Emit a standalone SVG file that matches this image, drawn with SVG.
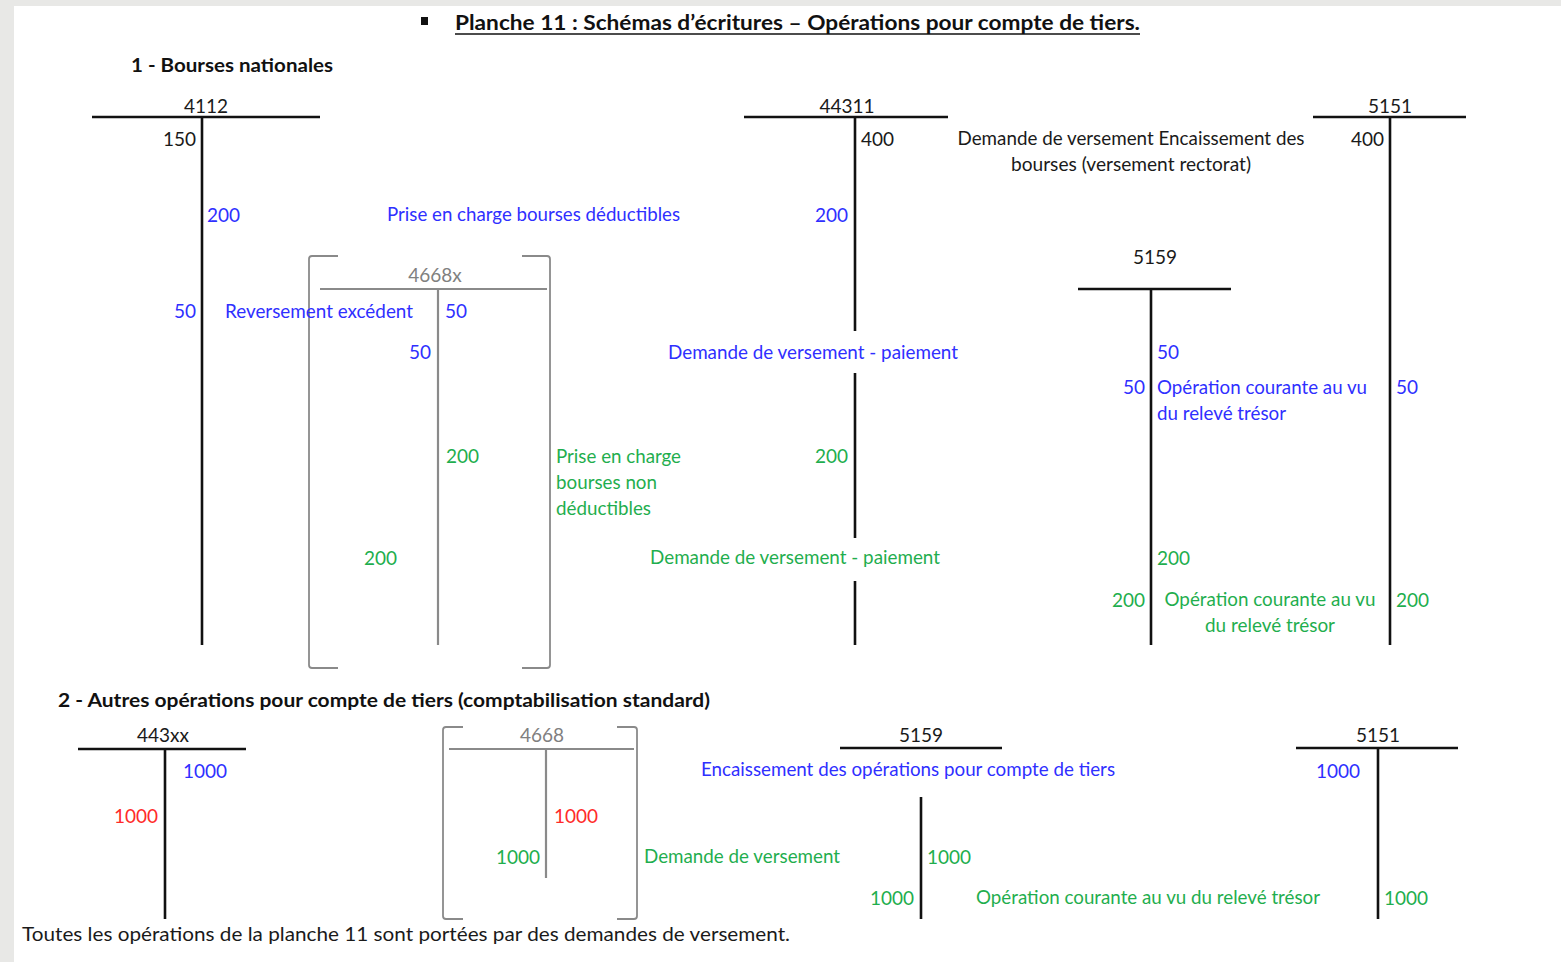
<svg xmlns="http://www.w3.org/2000/svg" width="1561" height="962" viewBox="0 0 1561 962">
<style>
text{font-family:Lato,"Open Sans","Liberation Sans",sans-serif;font-size:19px}
.k{fill:#1a1a1a}
.b{fill:#2f2fff}
.g{fill:#1fae4e}
.r{fill:#ff2a2a}
.gy{fill:#808080}
.h{font-weight:bold;fill:#111}
.e{text-anchor:end}
.m{text-anchor:middle}
.ln{stroke:#111;stroke-width:2.6;fill:none}
.gl{stroke:#8a8a8a;stroke-width:2.2;fill:none}
.br{stroke:#8a8a8a;stroke-width:1.8;fill:none}
</style>
<rect x="0" y="0" width="1561" height="962" fill="#e8e8e6"/>
<rect x="14" y="6" width="1547" height="956" fill="#ffffff"/>

<g id="title">
<rect x="421" y="17" width="7" height="8" fill="#111"/>
<text x="455" y="30" class="h" style="font-size:20.5px" textLength="685" lengthAdjust="spacingAndGlyphs">Planche 11 : Schémas d’écritures – Opérations pour compte de tiers.</text>
<line x1="455" y1="34" x2="1140" y2="34" stroke="#111" stroke-width="1.6"/>
<text x="131" y="72" class="h" style="font-size:18.5px" textLength="202" lengthAdjust="spacingAndGlyphs">1 - Bourses nationales</text>
<text x="58" y="707" class="h" style="font-size:18.5px" textLength="652" lengthAdjust="spacingAndGlyphs">2 - Autres opérations pour compte de tiers (comptabilisation standard)</text>
</g>

<g id="acc-4112">
<text x="206" y="113" class="k m">4112</text>
<path class="ln" d="M92 117H320M202 117V645"/>
<text x="196" y="146" class="k e">150</text>
<text x="207" y="222" class="b">200</text>
<text x="196" y="318" class="b e">50</text>
</g>

<g id="acc-4668x">
<path class="br" d="M338 256H312Q309 256 309 259V665Q309 668 312 668H338M522 256H547Q550 256 550 259V665Q550 668 547 668H522"/>
<text x="435" y="282" class="gy m">4668x</text>
<path class="gl" d="M320 289H547M438 289V645"/>
<text x="445" y="318" class="b">50</text>
<text x="431" y="359" class="b e">50</text>
<text x="446" y="463" class="g">200</text>
<text x="397" y="565" class="g e">200</text>
</g>

<g id="acc-44311">
<text x="847" y="113" class="k m">44311</text>
<path class="ln" d="M744 117H948M855 117V331M855 373V538M855 581V645"/>
<text x="861" y="146" class="k">400</text>
<text x="848" y="222" class="b e">200</text>
<text x="848" y="463" class="g e">200</text>
</g>

<g id="acc-5159-top">
<text x="1155" y="264" class="k m">5159</text>
<path class="ln" d="M1078 289H1231M1151 289V645"/>
<text x="1157" y="359" class="b">50</text>
<text x="1145" y="394" class="b e">50</text>
<text x="1157" y="565" class="g">200</text>
<text x="1145" y="607" class="g e">200</text>
</g>

<g id="acc-5151-top">
<text x="1390" y="113" class="k m">5151</text>
<path class="ln" d="M1313 117H1466M1390 117V645"/>
<text x="1384" y="146" class="k e">400</text>
<text x="1396" y="394" class="b">50</text>
<text x="1396" y="607" class="g">200</text>
</g>

<g id="acc-443xx">
<text x="163" y="742" class="k m">443xx</text>
<path class="ln" d="M78 749H246M165 749V919"/>
<text x="183" y="778" class="b">1000</text>
<text x="158" y="823" class="r e">1000</text>
</g>

<g id="acc-4668">
<path class="br" d="M463 727H446Q443 727 443 730V916Q443 919 446 919H463M617 727H634Q637 727 637 730V916Q637 919 634 919H617"/>
<text x="542" y="742" class="gy m">4668</text>
<path class="gl" d="M449 749H634M546 749V878"/>
<text x="554" y="823" class="r">1000</text>
<text x="540" y="864" class="g e">1000</text>
</g>

<g id="acc-5159-bottom">
<text x="921" y="742" class="k m">5159</text>
<path class="ln" d="M840 748H1002M921 797V919"/>
<text x="927" y="864" class="g">1000</text>
<text x="914" y="905" class="g e">1000</text>
</g>

<g id="acc-5151-bottom">
<text x="1378" y="742" class="k m">5151</text>
<path class="ln" d="M1296 748H1458M1378 748V919"/>
<text x="1360" y="778" class="b e">1000</text>
<text x="1384" y="905" class="g">1000</text>
</g>

<g id="labels">
<text x="387" y="221" class="b" textLength="293" lengthAdjust="spacingAndGlyphs">Prise en charge bourses déductibles</text>
<text x="225" y="318" class="b" textLength="188" lengthAdjust="spacingAndGlyphs">Reversement excédent</text>
<text x="1131" y="145" class="k m" textLength="347" lengthAdjust="spacingAndGlyphs">Demande de versement Encaissement des</text>
<text x="1131" y="171" class="k m" textLength="240" lengthAdjust="spacingAndGlyphs">bourses (versement rectorat)</text>
<text x="668" y="359" class="b" textLength="290" lengthAdjust="spacingAndGlyphs">Demande de versement - paiement</text>
<text x="556" y="463" class="g" textLength="125" lengthAdjust="spacingAndGlyphs">Prise en charge</text>
<text x="556" y="489" class="g" textLength="101" lengthAdjust="spacingAndGlyphs">bourses non</text>
<text x="556" y="515" class="g" textLength="95" lengthAdjust="spacingAndGlyphs">déductibles</text>
<text x="650" y="564" class="g" textLength="290" lengthAdjust="spacingAndGlyphs">Demande de versement - paiement</text>
<text x="1157" y="394" class="b" textLength="210" lengthAdjust="spacingAndGlyphs">Opération courante au vu</text>
<text x="1157" y="420" class="b" textLength="129" lengthAdjust="spacingAndGlyphs">du relevé trésor</text>
<text x="1270" y="606" class="g m" textLength="211" lengthAdjust="spacingAndGlyphs">Opération courante au vu</text>
<text x="1270" y="632" class="g m" textLength="130" lengthAdjust="spacingAndGlyphs">du relevé trésor</text>
<text x="701" y="776" class="b" textLength="414" lengthAdjust="spacingAndGlyphs">Encaissement des opérations pour compte de tiers</text>
<text x="644" y="863" class="g" textLength="196" lengthAdjust="spacingAndGlyphs">Demande de versement</text>
<text x="976" y="904" class="g" textLength="344" lengthAdjust="spacingAndGlyphs">Opération courante au vu du relevé trésor</text>
<text x="22" y="941" class="k" textLength="768" lengthAdjust="spacingAndGlyphs">Toutes les opérations de la planche 11 sont portées par des demandes de versement.</text>
</g>
</svg>
